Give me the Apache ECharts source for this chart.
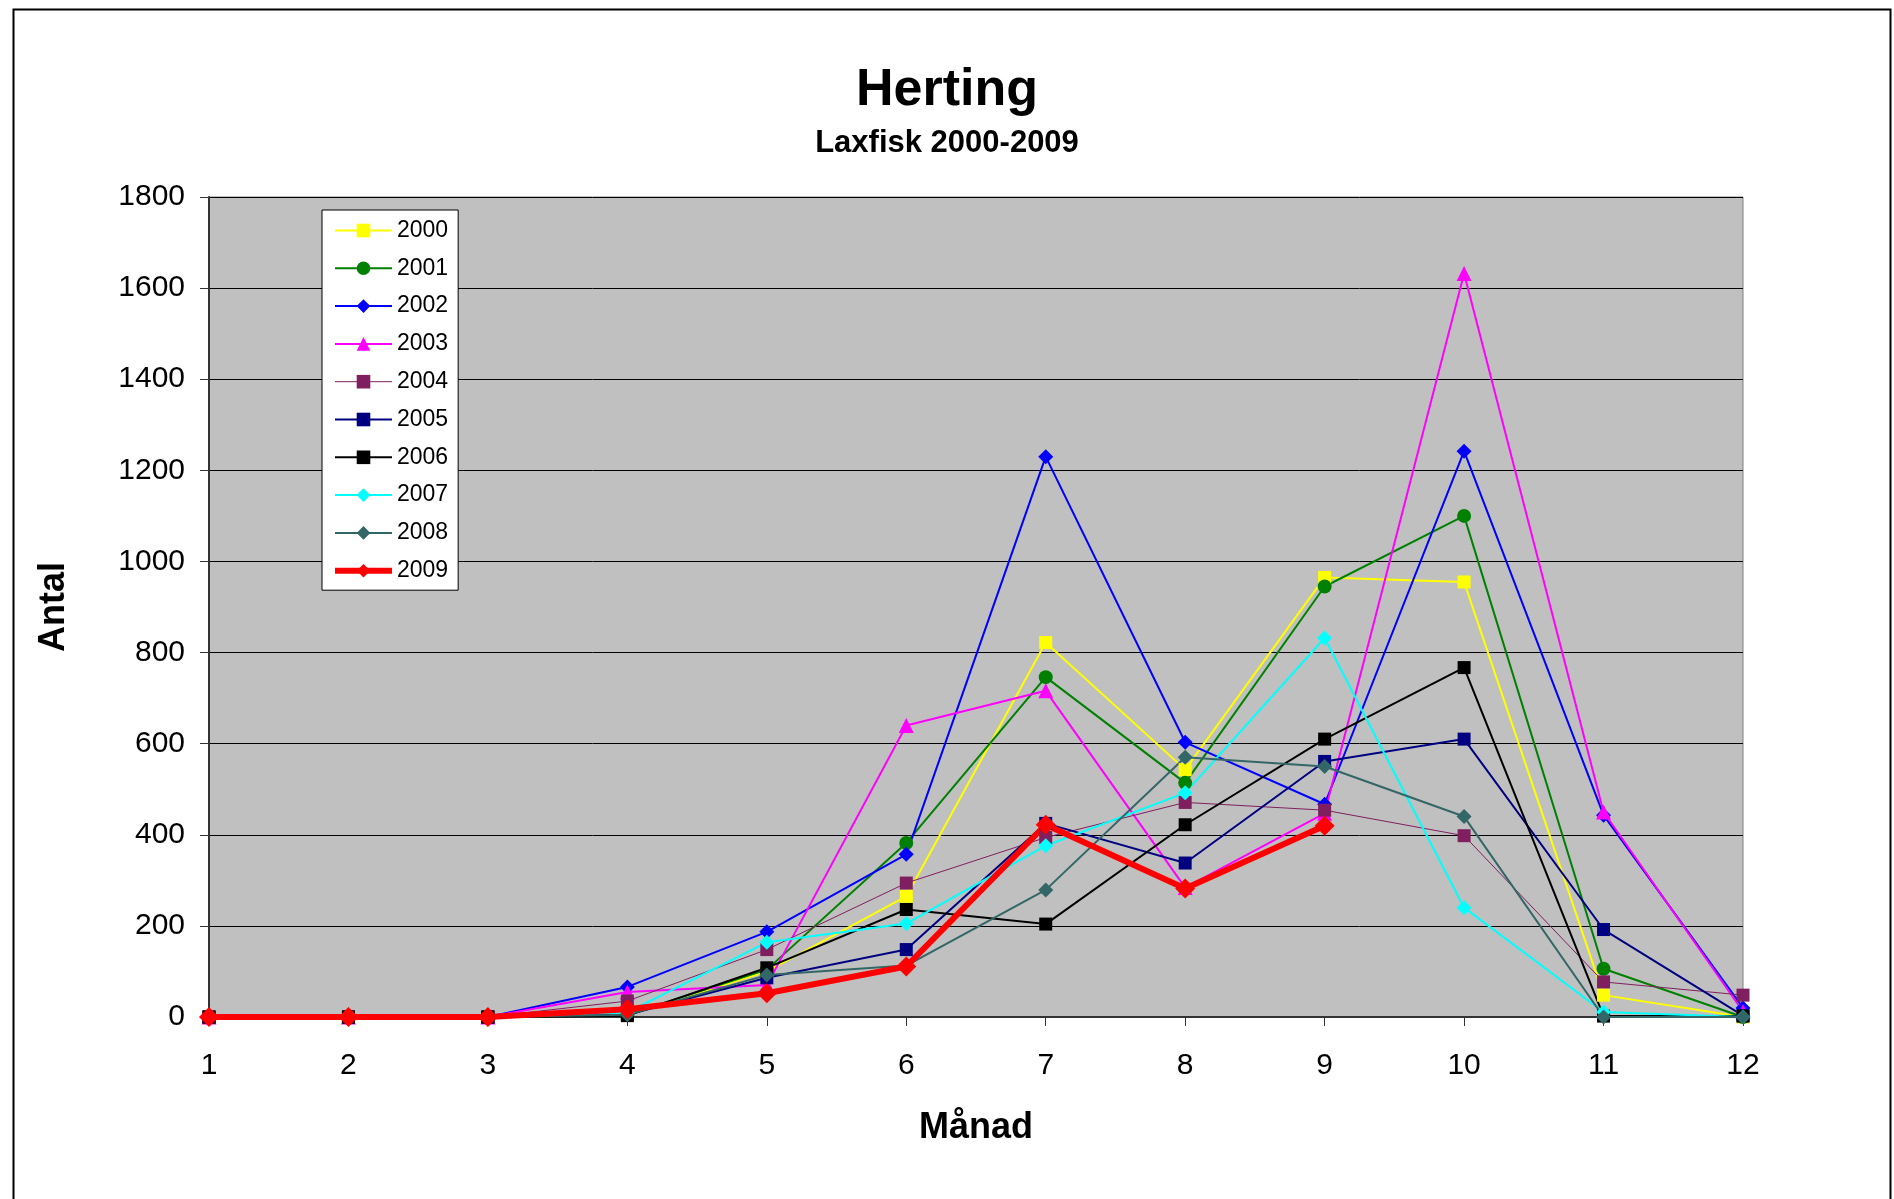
<!DOCTYPE html>
<html>
<head>
<meta charset="utf-8">
<script src="https://cdn.jsdelivr.net/npm/echarts@6/dist/echarts.min.js"></script>
<style>
html,body{margin:0;padding:0;background:#fff;}
#chart{width:1894px;height:1199px;}
</style>
</head>
<body>
<div id="chart"></div>
<script>
const months = ['1','2','3','4','5','6','7','8','9','10','11','12'];
const yTicks = [0,200,400,600,800,1000,1200,1400,1600,1800];
const years = ['2000','2001','2002','2003','2004','2005','2006','2007','2008','2009'];

const y2000 = [0,0,0,5,100,265,822,543,965,955,48,0];
const y2001 = [0,0,0,5,104,382,746,514,945,1100,106,0];
const y2002 = [0,0,0,66,187,357,1230,603,467,1242,443,20];
const y2003 = [0,0,0,55,70,640,716,284,447,1632,450,12];
const y2004 = [0,0,0,35,148,294,394,471,454,398,77,48];
const y2005 = [0,0,0,5,86,148,425,338,561,610,192,3];
const y2006 = [0,0,0,3,108,236,204,422,610,767,2,2];
const y2007 = [0,0,0,10,164,205,376,492,832,240,11,0];
const y2008 = [0,0,0,5,92,113,279,570,550,440,0,0];
const y2009 = [0,0,0,17,52,111,422,282,420];

const FONT = "'Liberation Sans', Arial, sans-serif";

function mk(name, data, color, symbol, size, width) {
  return {
    name: name, type: 'line', data: data,
    symbol: symbol, symbolSize: size,
    lineStyle: {color: color, width: width},
    itemStyle: {color: color, borderColor: color, borderWidth: 0},
    emphasis: {disabled: true},
    animation: false
  };
}

const legendWidths = {'2004': 1, '2009': 6};

const chart = echarts.init(document.getElementById('chart'), null, {renderer: 'canvas'});
chart.setOption({
  animation: false,
  backgroundColor: '#ffffff',
  title: {
    text: 'Herting',
    subtext: 'Laxfisk 2000-2009',
    left: 'center',
    top: 60,
    itemGap: 11,
    textStyle: {fontFamily: FONT, fontSize: 52, fontWeight: 'bold', color: '#000'},
    subtextStyle: {fontFamily: FONT, fontSize: 31, fontWeight: 'bold', color: '#000'}
  },
  graphic: [{
    type: 'rect', left: 11, top: 7, z: -1,
    shape: {x: 0, y: 0, width: 1877, height: 1260},
    style: {fill: 'none', stroke: '#000', lineWidth: 2}
  }],
  legend: {
    orient: 'vertical',
    left: 322, top: 210,
    padding: [9, 10, 8, 10],
    itemWidth: 57, itemHeight: 17, itemGap: 14.8,
    backgroundColor: '#ffffff',
    borderColor: '#000', borderWidth: 1,
    textStyle: {fontFamily: FONT, fontSize: 23, color: '#000'},
    data: years.map(function (y) {
      return {name: y, lineStyle: {width: legendWidths[y] || 2}};
    })
  },
  grid: {
    left: 209, right: 151, top: 197, bottom: 182,
    show: true, backgroundColor: '#C0C0C0', borderColor: '#808080', borderWidth: 1
  },
  xAxis: {
    type: 'category', data: months, boundaryGap: false,
    name: 'Månad', nameLocation: 'middle', nameGap: 93,
    nameTextStyle: {fontFamily: FONT, fontSize: 36, fontWeight: 'bold', color: '#000'},
    axisLine: {lineStyle: {color: '#333', width: 2}},
    axisTick: {show: true, length: 9, lineStyle: {color: '#333'}},
    axisLabel: {fontFamily: FONT, fontSize: 30, color: '#000', margin: 34},
    splitLine: {show: false}
  },
  yAxis: {
    type: 'value', min: 0, max: 1800, interval: 200,
    name: 'Antal', nameLocation: 'middle', nameGap: 137, nameRotate: 90,
    nameTextStyle: {fontFamily: FONT, fontSize: 36, fontWeight: 'bold', color: '#000'},
    axisLine: {show: true, lineStyle: {color: '#333', width: 2}},
    axisTick: {show: true, length: 9, lineStyle: {color: '#333'}},
    axisLabel: {fontFamily: FONT, fontSize: 30, color: '#000', margin: 24,
      formatter: function (v) { return yTicks.indexOf(v) >= 0 ? String(v) : ''; }},
    splitLine: {show: true, lineStyle: {color: '#000', width: 1}}
  },
  series: [
    mk('2000', y2000, '#FFFF00', 'rect', 13, 2),
    mk('2001', y2001, '#008000', 'circle', 14, 2),
    mk('2002', y2002, '#0000FF', 'diamond', 15, 2),
    mk('2003', y2003, '#FF00FF', 'triangle', 15, 2),
    mk('2004', y2004, '#7F1F5F', 'rect', 13, 1),
    mk('2005', y2005, '#000080', 'rect', 13, 2),
    mk('2006', y2006, '#000000', 'rect', 13, 2),
    mk('2007', y2007, '#00FFFF', 'diamond', 15, 2),
    mk('2008', y2008, '#336666', 'diamond', 15, 2),
    mk('2009', y2009, '#FF0000', 'diamond', 20, 6)
  ]
});
</script>
</body>
</html>
